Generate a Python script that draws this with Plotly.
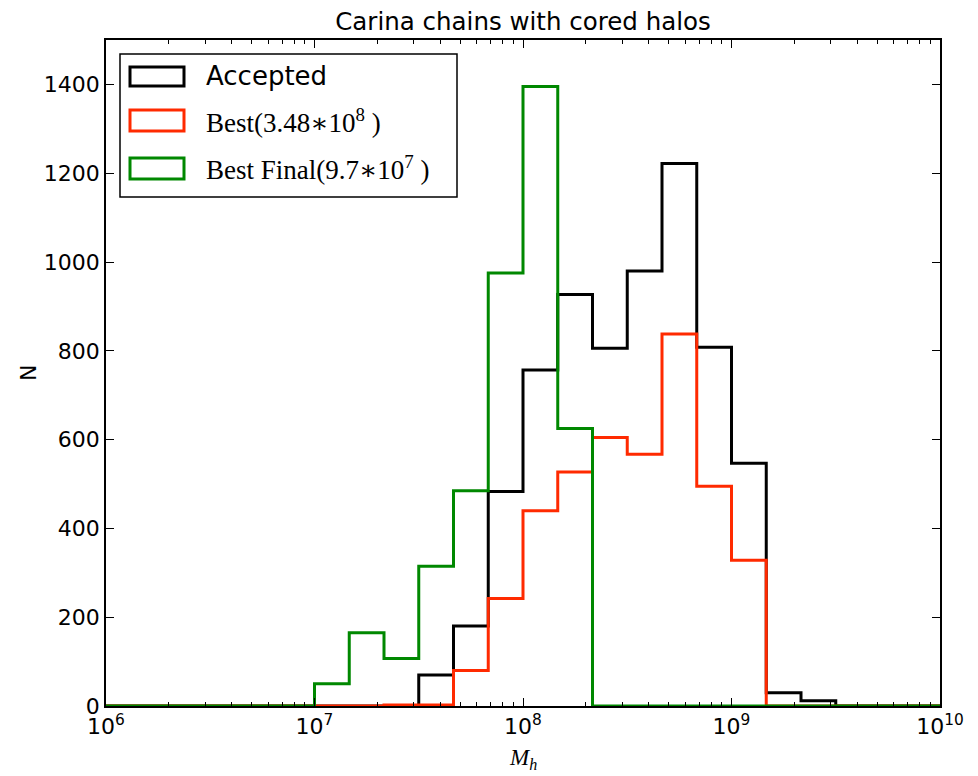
import plotly.graph_objects as go

# bin edges: 1/6 decade bins from 1e6 to 1e10
log_edges = [6 + k / 6 for k in range(25)]
edges = [10 ** e for e in log_edges]

accepted = [0, 0, 0, 0, 0, 0, 0, 0, 0, 70, 180, 483, 757, 927, 806, 980, 1222, 808, 547, 30, 12, 0, 0, 0]
best = [0, 0, 0, 0, 0, 0, 0, 0, 2, 2, 80, 242, 440, 527, 605, 567, 838, 495, 328, 0, 0, 0, 0, 0]
best_final = [0, 0, 0, 0, 0, 0, 50, 165, 107, 315, 485, 975, 1395, 625, 0, 0, 0, 0, 0, 0, 0, 0, 0, 0]

AST = "<span style=\"font-family:'DejaVu Serif';font-weight:normal\">∗</span>"
series_names = ["Accepted", "Best(3.48" + AST + "10<sup>8</sup> )", "Best Final(9.7" + AST + "10<sup>7</sup> )"]
series_vals = [accepted, best, best_final]
colors = ["#000000", "#ff2a00", "#008800"]

fig = go.Figure()
for name, vals, c in zip(series_names, series_vals, colors):
    fig.add_trace(go.Scatter(
        x=edges, y=list(vals) + [vals[-1]], mode="lines", line_shape="hv",
        line=dict(color=c, width=3), name=name, showlegend=False, hoverinfo="skip"))

# axes geometry (pixels)
L, R, T, B = 106, 940, 40, 706
W, H = R - L, B - T

def px(x):
    return (x - L) / W

def py(y):
    return (B - y) / H

# manual legend
fig.add_shape(type="rect", xref="paper", yref="paper", x0=px(120), x1=px(457), y0=py(197), y1=py(54),
              line=dict(color="black", width=1.5), fillcolor="white")
rows = [(67, 86), (110, 131), (158, 179)]
fonts = ["DejaVu Sans", "Liberation Serif", "Liberation Serif"]
for (y0, y1), name, c, f in zip(rows, series_names, colors, fonts):
    fig.add_shape(type="rect", xref="paper", yref="paper", x0=px(130), x1=px(184), y0=py(y1), y1=py(y0),
                  line=dict(color=c, width=3), fillcolor="rgba(0,0,0,0)")
    fig.add_annotation(xref="paper", yref="paper", x=px(204), y=py((y0 + y1) / 2), text=name,
                       showarrow=False, xanchor="left", yanchor="middle",
                       font=dict(family=f, size=26 if f == "DejaVu Sans" else 27, color="black"))

# axis titles as annotations for exact placement
fig.add_annotation(xref="paper", yref="paper", x=px(28), y=py(373), text="N", textangle=-90,
                   showarrow=False, xanchor="center", yanchor="middle",
                   font=dict(family="DejaVu Sans", size=22, color="black"))
fig.add_annotation(xref="paper", yref="paper", x=px(523), y=py(759), text="<i>M</i><sub><i>h</i></sub>",
                   showarrow=False, xanchor="center", yanchor="middle",
                   font=dict(family="Liberation Serif", size=23, color="black"))

major = [1e6, 1e7, 1e8, 1e9, 1e10]
minor_vals = [m * 10 ** d for d in range(6, 10) for m in range(2, 10)]

fig.update_layout(
    width=978, height=776,
    margin=dict(l=L, r=978 - R, t=T, b=776 - B),
    paper_bgcolor="white", plot_bgcolor="white",
    title=dict(text="Carina chains with cored halos", x=(L + R) / 2 / 978, xanchor="center",
               y=1 - 21 / 776, yanchor="middle", font=dict(family="DejaVu Sans", size=24.5, color="black")),
    font=dict(family="DejaVu Sans", size=22, color="black"),
    xaxis=dict(type="log", range=[6, 10], showgrid=False, zeroline=False,
               tickmode="array", tickvals=major, ticktext=["10<sup>%d</sup>" % d for d in range(6, 11)],
               ticks="inside", ticklen=8, tickwidth=1, tickcolor="black",
               minor=dict(tickmode="array", tickvals=minor_vals, ticks="inside", ticklen=4, tickcolor="black"),
               showline=True, linecolor="black", linewidth=1.5, mirror="ticks",
               tickfont=dict(size=22, family="DejaVu Sans")),
    yaxis=dict(range=[0, 1500], showgrid=False, zeroline=False,
               tickmode="array", tickvals=list(range(0, 1500, 200)),
               ticks="inside", ticklen=8, tickwidth=1, tickcolor="black",
               showline=True, linecolor="black", linewidth=1.5, mirror="ticks",
               tickfont=dict(size=22, family="DejaVu Sans")),
)

fig.write_html("out.html")
